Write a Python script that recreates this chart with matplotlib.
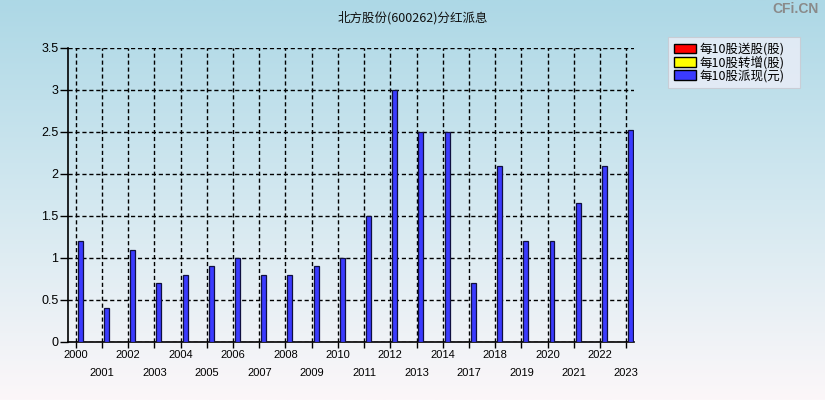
from __future__ import annotations

import matplotlib

matplotlib.use("Agg")
import matplotlib.pyplot as plt
import numpy as np
from matplotlib.colors import LinearSegmentedColormap


YEARS = [
    "2000", "2001", "2002", "2003", "2004", "2005", "2006", "2007",
    "2008", "2009", "2010", "2011", "2012", "2013", "2014", "2017",
    "2018", "2019", "2020", "2021", "2022", "2023",
]
SONG_GU = [0] * 22  # 每10股送股(股)
ZHUAN_ZENG = [0] * 22  # 每10股转增(股)
PAI_XIAN = [
    1.2, 0.4, 1.1, 0.7, 0.8, 0.9, 1.0, 0.8, 0.8, 0.9, 1.0, 1.5,
    3.0, 2.5, 2.5, 0.7, 2.1, 1.2, 1.2, 1.65, 2.1, 2.52,
]
Y_TICKS = [0, 0.5, 1, 1.5, 2, 2.5, 3, 3.5]
Y_TICK_LABELS = ["0", "0.5", "1", "1.5", "2", "2.5", "3", "3.5"]

TITLE = "北方股份(600262)分红派息"
LABELS = ["每10股送股(股)", "每10股转增(股)", "每10股派现(元)"]
COLORS = ["#ff0000", "#ffff00", "#3b3bff"]


def setup_font() -> None:
    plt.rcParams["font.family"] = ["Noto Sans CJK SC", "DejaVu Sans"]
    plt.rcParams["axes.unicode_minus"] = False


def main() -> None:
    setup_font()
    fig = plt.figure(figsize=(8.25, 4), dpi=100)

    # background gradient
    bg = fig.add_axes([0, 0, 1, 1], zorder=-10)
    cmap = LinearSegmentedColormap.from_list(
        "bg", ["#add8e6", "#d3e8f0", "#fcf7f9"]
    )
    grad = np.linspace(0, 1, 256).reshape(-1, 1)
    bg.imshow(grad, aspect="auto", cmap=cmap, extent=[0, 1, 0, 1])
    bg.set_axis_off()

    ax = fig.add_axes([0.0824, 0.145, 0.6861, 0.735])
    ax.patch.set_alpha(0)

    x = np.arange(len(YEARS))
    offset = 0.17
    width = 0.19
    ax.bar(x + offset, SONG_GU, width, color=COLORS[0], edgecolor="black",
           linewidth=0, label=LABELS[0], zorder=3)
    ax.bar(x + offset, ZHUAN_ZENG, width, color=COLORS[1], edgecolor="black",
           linewidth=0, label=LABELS[1], zorder=3)
    ax.bar(x + offset, PAI_XIAN, width, color=COLORS[2], edgecolor="#101040",
           linewidth=0.9, label=LABELS[2], zorder=3)

    ax.set_xlim(-0.3, len(YEARS) - 1 + 0.3)
    ax.set_ylim(0, 3.5)

    ax.set_yticks(Y_TICKS)
    ax.set_yticklabels(Y_TICK_LABELS, family=["Liberation Sans", "DejaVu Sans"],
                       fontsize=9)
    ax.set_xticks(x)
    xlabels = [y if i % 2 == 0 else "\n" + y for i, y in enumerate(YEARS)]
    ax.set_xticklabels(xlabels, family=["Liberation Sans", "DejaVu Sans"],
                       fontsize=8)
    for lbl in ax.get_xticklabels():
        lbl.set_linespacing(1.95)

    ax.tick_params(axis="y", length=6, width=1, pad=1, colors="black")
    ax.tick_params(axis="x", length=4, width=1, pad=2, colors="black")

    ax.grid(True, color="black", linestyle=(0, (3, 2)), linewidth=1, zorder=1)
    ax.set_axisbelow(True)
    for side in ("top", "right"):
        ax.spines[side].set_visible(False)
    ax.spines["left"].set_linewidth(1.2)
    ax.spines["bottom"].set_linewidth(1.2)

    fig.text(0.5, 0.955, TITLE, ha="center", va="center", fontsize=9,
             color="#111111")
    fig.text(0.992, 0.978, "CFi.CN", ha="right", va="center", fontsize=10,
             fontweight="bold", color="#8a8a8a",
             family=["Liberation Sans", "DejaVu Sans"])

    leg = fig.legend(
        loc="upper left",
        bbox_to_anchor=(668 / 825, 1 - 88 / 400, 132 / 825, 51 / 400),
        mode="expand",
        borderaxespad=0,
        fontsize=9,
        frameon=True,
        fancybox=False,
        handlelength=1.8,
        handleheight=0.75,
        handletextpad=0.3,
        labelspacing=0.0,
        borderpad=0.45,
    )
    frame = leg.get_frame()
    frame.set_facecolor("#eceef8")
    frame.set_edgecolor("#c8c8d0")
    frame.set_linewidth(0.8)
    for h in leg.legend_handles:
        h.set_edgecolor("black")
        h.set_linewidth(1)

    fig.savefig("out.png", dpi=100)
    plt.close(fig)


if __name__ == "__main__":
    main()
